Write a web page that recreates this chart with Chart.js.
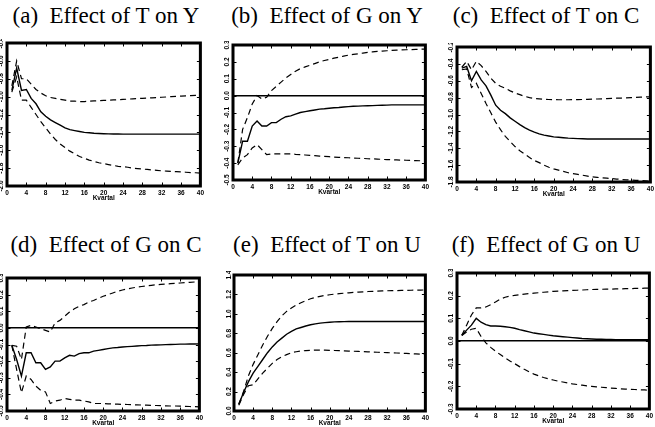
<!DOCTYPE html>
<html>
<head>
<meta charset="utf-8">
<script src="https://cdn.jsdelivr.net/npm/chart.js@4.4.0/dist/chart.umd.min.js"></script>
<style>
    body { margin: 0; background: #fff; width: 655px; height: 427px; position: relative; overflow: hidden; }
    .ttl { position: absolute; font-family: "Liberation Serif", "DejaVu Serif", serif; font-size: 23px; line-height: 26px; white-space: nowrap; transform: translateX(-50%); color: #000; }
    canvas { position: absolute; }
</style>
</head>
<body>
<div class="ttl" style="left:106px;top:3px">(a)&nbsp; Effect of T on Y</div>
<div class="ttl" style="left:327px;top:3px">(b)&nbsp; Effect of G on Y</div>
<div class="ttl" style="left:546px;top:3px">(c)&nbsp; Effect of T on C</div>
<div class="ttl" style="left:106px;top:232px">(d)&nbsp; Effect of G on C</div>
<div class="ttl" style="left:327px;top:232px">(e)&nbsp; Effect of T on U</div>
<div class="ttl" style="left:546px;top:232px">(f)&nbsp; Effect of G on U</div>
<canvas id="pa"></canvas>
<canvas id="pb"></canvas>
<canvas id="pc"></canvas>
<canvas id="pd"></canvas>
<canvas id="pe"></canvas>
<canvas id="pf"></canvas>
<script>
// kvartal 1..40
var quarters = [1, 2, 3, 4, 5, 6, 7, 8, 9, 10, 11, 12, 13, 14, 15, 16, 17, 18, 19, 20,
    21, 22, 23, 24, 25, 26, 27, 28, 29, 30, 31, 32, 33, 34, 35, 36, 37, 38, 39, 40];

// (a) T on Y
var aMid = [-0.93, -0.68, -0.93, -0.92, -1.02, -1.08, -1.17, -1.22, -1.26, -1.29, -1.32, -1.35, -1.37, -1.38, -1.39, -1.40, -1.405, -1.41, -1.413, -1.415,
    -1.417, -1.418, -1.419, -1.42, -1.42, -1.42, -1.42, -1.42, -1.42, -1.42, -1.42, -1.42, -1.42, -1.42, -1.42, -1.42, -1.42, -1.42, -1.42, -1.42];
var aHi = [-0.88, -0.60, -0.80, -0.80, -0.86, -0.92, -0.96, -0.99, -1.01, -1.02, -1.03, -1.04, -1.05, -1.05, -1.055, -1.055, -1.05, -1.048, -1.045, -1.042,
    -1.04, -1.037, -1.034, -1.031, -1.028, -1.025, -1.022, -1.019, -1.016, -1.013, -1.01, -1.007, -1.004, -1.0, -0.997, -0.994, -0.991, -0.988, -0.985, -0.982];
var aLo = [-0.95, -0.78, -1.04, -1.04, -1.12, -1.20, -1.28, -1.35, -1.42, -1.48, -1.53, -1.57, -1.61, -1.64, -1.67, -1.69, -1.71, -1.725, -1.74, -1.75,
    -1.76, -1.77, -1.78, -1.785, -1.79, -1.80, -1.805, -1.81, -1.815, -1.82, -1.825, -1.83, -1.833, -1.836, -1.84, -1.843, -1.846, -1.85, -1.852, -1.855];

// (b) G on Y
var bMid = [-0.40, -0.27, -0.27, -0.18, -0.15, -0.18, -0.18, -0.16, -0.16, -0.14, -0.125, -0.12, -0.11, -0.10, -0.095, -0.09, -0.085, -0.08, -0.078, -0.075,
    -0.072, -0.07, -0.067, -0.065, -0.063, -0.062, -0.061, -0.06, -0.059, -0.058, -0.057, -0.056, -0.055, -0.055, -0.055, -0.055, -0.055, -0.055, -0.055, -0.055];
var bHi = [-0.40, -0.20, -0.13, -0.05, 0.0, -0.02, -0.01, 0.03, 0.055, 0.08, 0.105, 0.125, 0.145, 0.16, 0.17, 0.18, 0.19, 0.20, 0.208, 0.215,
    0.222, 0.228, 0.234, 0.24, 0.244, 0.248, 0.252, 0.256, 0.259, 0.262, 0.264, 0.266, 0.268, 0.27, 0.271, 0.272, 0.273, 0.274, 0.275, 0.276];
var bLo = [-0.41, -0.37, -0.35, -0.31, -0.29, -0.32, -0.35, -0.345, -0.345, -0.345, -0.345, -0.345, -0.348, -0.35, -0.352, -0.354, -0.356, -0.358, -0.36, -0.362,
    -0.364, -0.366, -0.367, -0.368, -0.37, -0.371, -0.372, -0.374, -0.375, -0.376, -0.378, -0.379, -0.38, -0.381, -0.382, -0.383, -0.384, -0.385, -0.386, -0.387];

// (c) T on C
var cMid = [-0.45, -0.43, -0.60, -0.49, -0.59, -0.66, -0.77, -0.89, -0.95, -0.99, -1.04, -1.08, -1.12, -1.155, -1.185, -1.21, -1.23, -1.245, -1.255, -1.265,
    -1.27, -1.275, -1.28, -1.283, -1.286, -1.288, -1.29, -1.29, -1.29, -1.29, -1.29, -1.29, -1.29, -1.29, -1.29, -1.29, -1.29, -1.29, -1.29, -1.29];
var cHi = [-0.44, -0.37, -0.47, -0.37, -0.42, -0.49, -0.57, -0.63, -0.665, -0.69, -0.72, -0.745, -0.765, -0.785, -0.80, -0.81, -0.815, -0.82, -0.822, -0.824,
    -0.825, -0.825, -0.825, -0.824, -0.823, -0.822, -0.82, -0.818, -0.816, -0.814, -0.812, -0.81, -0.807, -0.805, -0.802, -0.80, -0.797, -0.795, -0.792, -0.79];
var cLo = [-0.47, -0.46, -0.68, -0.63, -0.75, -0.87, -0.98, -1.09, -1.18, -1.26, -1.32, -1.38, -1.43, -1.47, -1.51, -1.545, -1.57, -1.60, -1.625, -1.645,
    -1.66, -1.675, -1.69, -1.70, -1.71, -1.72, -1.73, -1.74, -1.745, -1.75, -1.755, -1.76, -1.765, -1.77, -1.774, -1.778, -1.78, -1.783, -1.786, -1.79];

// (d) G on C
var dMid = [-0.105, -0.19, -0.29, -0.15, -0.15, -0.21, -0.21, -0.25, -0.235, -0.20, -0.20, -0.18, -0.165, -0.17, -0.155, -0.15, -0.15, -0.14, -0.135, -0.13,
    -0.125, -0.12, -0.118, -0.115, -0.113, -0.111, -0.109, -0.107, -0.106, -0.104, -0.103, -0.102, -0.101, -0.1, -0.099, -0.098, -0.098, -0.097, -0.097, -0.096];
var dHi = [-0.105, -0.11, -0.19, 0.005, 0.015, 0.005, -0.005, -0.015, -0.025, 0.03, 0.045, 0.07, 0.095, 0.115, 0.13, 0.14, 0.155, 0.165, 0.178, 0.19,
    0.2, 0.21, 0.22, 0.228, 0.234, 0.24, 0.245, 0.249, 0.253, 0.256, 0.259, 0.262, 0.264, 0.266, 0.268, 0.27, 0.272, 0.274, 0.276, 0.278];
var dLo = [-0.105, -0.25, -0.39, -0.29, -0.31, -0.35, -0.375, -0.385, -0.455, -0.44, -0.435, -0.425, -0.43, -0.435, -0.435, -0.44, -0.445, -0.455, -0.455, -0.455,
    -0.457, -0.458, -0.459, -0.46, -0.461, -0.462, -0.463, -0.464, -0.465, -0.466, -0.467, -0.468, -0.469, -0.47, -0.47, -0.471, -0.472, -0.473, -0.474, -0.475];

// (e) T on U
var eMid = [0.07, 0.19, 0.30, 0.39, 0.46, 0.53, 0.60, 0.66, 0.71, 0.75, 0.79, 0.82, 0.845, 0.86, 0.875, 0.888, 0.897, 0.905, 0.91, 0.914,
    0.917, 0.919, 0.92, 0.921, 0.921, 0.921, 0.921, 0.921, 0.921, 0.921, 0.921, 0.921, 0.921, 0.921, 0.921, 0.921, 0.921, 0.921, 0.921, 0.921];
var eHi = [0.07, 0.20, 0.36, 0.48, 0.58, 0.68, 0.77, 0.85, 0.92, 0.98, 1.025, 1.06, 1.09, 1.115, 1.135, 1.155, 1.17, 1.18, 1.19, 1.197,
    1.203, 1.208, 1.213, 1.217, 1.221, 1.224, 1.227, 1.23, 1.232, 1.234, 1.236, 1.238, 1.239, 1.24, 1.241, 1.242, 1.243, 1.244, 1.245, 1.246];
var eLo = [0.06, 0.17, 0.26, 0.27, 0.33, 0.39, 0.44, 0.49, 0.53, 0.56, 0.58, 0.60, 0.61, 0.617, 0.622, 0.625, 0.627, 0.627, 0.626, 0.625,
    0.623, 0.621, 0.619, 0.617, 0.615, 0.613, 0.611, 0.609, 0.607, 0.605, 0.603, 0.601, 0.599, 0.597, 0.595, 0.593, 0.59, 0.588, 0.585, 0.582];

// (f) G on U
var fMid = [0.025, 0.048, 0.07, 0.10, 0.083, 0.072, 0.066, 0.066, 0.065, 0.063, 0.06, 0.056, 0.05, 0.045, 0.04, 0.035, 0.032, 0.029, 0.026, 0.023,
    0.021, 0.019, 0.017, 0.015, 0.013, 0.011, 0.01, 0.009, 0.008, 0.008, 0.007, 0.007, 0.006, 0.006, 0.006, 0.006, 0.006, 0.006, 0.006, 0.006];
var fHi = [0.025, 0.07, 0.115, 0.146, 0.146, 0.15, 0.16, 0.172, 0.185, 0.193, 0.198, 0.201, 0.204, 0.207, 0.209, 0.211, 0.213, 0.215, 0.217, 0.219,
    0.22, 0.221, 0.222, 0.223, 0.224, 0.225, 0.226, 0.227, 0.228, 0.228, 0.229, 0.229, 0.23, 0.23, 0.231, 0.231, 0.232, 0.232, 0.233, 0.233];
var fLo = [0.024, 0.04, 0.052, 0.056, 0.02, -0.008, -0.028, -0.045, -0.06, -0.075, -0.088, -0.10, -0.113, -0.125, -0.136, -0.146, -0.154, -0.161, -0.167, -0.172,
    -0.177, -0.181, -0.185, -0.189, -0.192, -0.195, -0.198, -0.2, -0.202, -0.204, -0.206, -0.208, -0.209, -0.211, -0.212, -0.213, -0.214, -0.215, -0.216, -0.217];

// y-axis limits per panel [min, max, step]
var aAxis = [-2.0, -0.4, 0.2];
var bAxis = [-0.5, 0.3, 0.1];
var cAxis = [-1.8, -0.2, 0.2];
var dAxis = [-0.5, 0.3, 0.1];
var eAxis = [0.0, 1.4, 0.2];
var fAxis = [-0.3, 0.3, 0.1];

// frame position on the page (left, top, right, bottom)
var panels = [
    { id: 'pa', box: [7, 43, 203, 186], axis: aAxis, mid: aMid, hi: aHi, lo: aLo, zero: false },
    { id: 'pb', box: [233, 45, 428, 180], axis: bAxis, mid: bMid, hi: bHi, lo: bLo, zero: true },
    { id: 'pc', box: [457, 47, 653, 182], axis: cAxis, mid: cMid, hi: cHi, lo: cLo, zero: false },
    { id: 'pd', box: [7, 278, 202, 411], axis: dAxis, mid: dMid, hi: dHi, lo: dLo, zero: true },
    { id: 'pe', box: [234, 275, 428, 411], axis: eAxis, mid: eMid, hi: eHi, lo: eLo, zero: false },
    { id: 'pf', box: [457, 273, 652, 409], axis: fAxis, mid: fMid, hi: fHi, lo: fLo, zero: true }
];

var padL = 10, padT = 4, padR = 4, padB = 16;
var smallFont = { family: '"Liberation Sans", Arial, sans-serif', size: 6.5, weight: 'bold' };

// frame + inward tick marks
var framePlugin = {
    id: 'frame',
    afterDraw: function (chart) {
        var a = chart.chartArea;
        var ctx = chart.ctx;
        var xs = chart.scales.x, ys = chart.scales.y;
        ctx.save();
        ctx.strokeStyle = '#000';
        ctx.lineWidth = 1;
        ctx.beginPath();
        xs.ticks.forEach(function (t) {
            var px = Math.round(xs.getPixelForValue(t.value)) + 0.5;
            ctx.moveTo(px, a.top); ctx.lineTo(px, a.top + 3.5);
            ctx.moveTo(px, a.bottom); ctx.lineTo(px, a.bottom - 3.5);
        });
        ys.ticks.forEach(function (t) {
            var py = Math.round(ys.getPixelForValue(t.value)) + 0.5;
            ctx.moveTo(a.left, py); ctx.lineTo(a.left + 3.5, py);
            ctx.moveTo(a.right, py); ctx.lineTo(a.right - 3.5, py);
        });
        ctx.stroke();
        ctx.lineWidth = 3;
        ctx.strokeRect(a.left, a.top, a.right - a.left, a.bottom - a.top);
        ctx.restore();
    }
};

function makeChart(p) {
    var cv = document.getElementById(p.id);
    var L = p.box[0], T = p.box[1], R = p.box[2], B = p.box[3];
    cv.width = R - L + padL + padR;
    cv.height = B - T + padT + padB;
    cv.style.left = (L - padL) + 'px';
    cv.style.top = (T - padT) + 'px';

    new Chart(cv.getContext('2d'), {
        type: 'line',
        data: {
            labels: quarters,
            datasets: [
                { data: p.mid, borderColor: '#000', borderWidth: 1.4, pointRadius: 0, fill: false, tension: 0 },
                { data: p.hi, borderColor: '#000', borderWidth: 1.2, borderDash: [6, 4], pointRadius: 0, fill: false, tension: 0 },
                { data: p.lo, borderColor: '#000', borderWidth: 1.2, borderDash: [6, 4], pointRadius: 0, fill: false, tension: 0 }
            ]
        },
        options: {
            responsive: false,
            animation: false,
            events: [],
            layout: { padding: { top: padT, right: padR, left: 0, bottom: 0 } },
            plugins: {
                legend: { display: false },
                tooltip: { enabled: false }
            },
            scales: {
                x: {
                    type: 'linear',
                    min: 0,
                    max: 40,
                    grid: { display: false, drawTicks: false },
                    border: { display: false },
                    ticks: { stepSize: 4, maxRotation: 0, padding: 3, color: '#000', font: smallFont },
                    title: { display: true, text: 'Kvartal', color: '#000', font: smallFont, padding: { top: 1, bottom: 0 } },
                    afterFit: function (s) { s.height = padB; }
                },
                y: {
                    min: p.axis[0],
                    max: p.axis[1],
                    border: { display: false },
                    grid: {
                        drawTicks: false,
                        lineWidth: 1.4,
                        color: function (c) {
                            return (p.zero && c.tick && Math.abs(c.tick.value) < 1e-9) ? '#000' : 'rgba(0,0,0,0)';
                        }
                    },
                    ticks: {
                        stepSize: p.axis[2],
                        minRotation: 90,
                        maxRotation: 90,
                        crossAlign: 'center',
                        padding: 0,
                        color: '#000',
                        font: smallFont,
                        callback: function (v) { return Number(v).toFixed(1); }
                    },
                    afterFit: function (s) { s.width = padL; }
                }
            }
        },
        plugins: [framePlugin]
    });
}

document.addEventListener("DOMContentLoaded", function () {
    panels.forEach(makeChart);
});
</script>
</body>
</html>
